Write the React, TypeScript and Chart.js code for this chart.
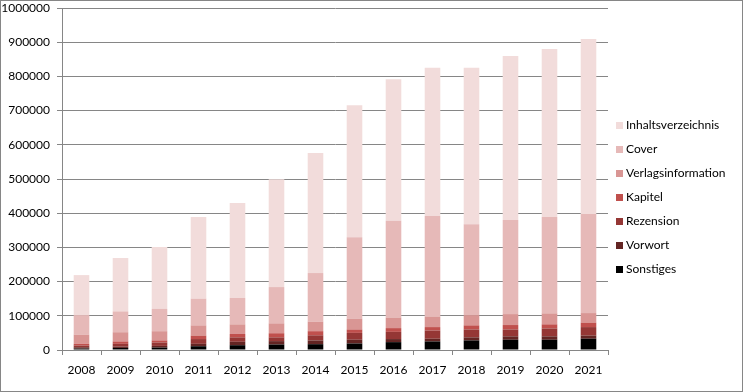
import React, { useEffect, useRef } from "react";
import { Chart, registerables } from "chart.js";

Chart.register(...registerables);

const years = ["2008", "2009", "2010", "2011", "2012", "2013", "2014", "2015", "2016", "2017", "2018", "2019", "2020", "2021"];

const sonstiges = [4000, 6000, 7000, 11000, 14000, 16000, 17000, 19000, 23000, 25000, 28000, 30000, 30000, 33000];
const vorwort = [4000, 4000, 5000, 7000, 10000, 10000, 11000, 11000, 9000, 8000, 9000, 10000, 10000, 9000];
const rezension = [5000, 8000, 10000, 14000, 13000, 11000, 15000, 20000, 21000, 24000, 23000, 20000, 23000, 25000];
const kapitel = [5000, 7000, 6000, 10000, 10000, 12000, 12000, 10000, 11000, 10000, 12000, 13000, 12000, 13000];
const verlagsinformation = [27000, 27000, 27000, 30000, 28000, 29000, 28000, 32000, 31000, 31000, 30000, 32000, 32000, 28000];
const cover = [57000, 61000, 65000, 78000, 77000, 106000, 142000, 238000, 283000, 294000, 266000, 275000, 282000, 290000];
const inhaltsverzeichnis = [117000, 156000, 181000, 239000, 278000, 315000, 351000, 386000, 414000, 433000, 457000, 480000, 491000, 511000];

const seriesNames = ["Sonstiges", "Vorwort", "Rezension", "Kapitel", "Verlagsinformation", "Cover", "Inhaltsverzeichnis"];
const seriesValues = [sonstiges, vorwort, rezension, kapitel, verlagsinformation, cover, inhaltsverzeichnis];
const seriesColors = ["#000000", "#632523", "#953735", "#c0504d", "#d99694", "#e6b9b8", "#f2dcdb"];

const GRID = "#868686";
const FONT = "Lato, 'Open Sans', sans-serif";

export default function App() {
  const ref = useRef<HTMLCanvasElement | null>(null);

  useEffect(() => {
    if (!ref.current) return;
    const bgPlugin = {
      id: "bgBorder",
      beforeDraw(chart: any) {
        const ctx = chart.ctx;
        ctx.save();
        ctx.fillStyle = "#ffffff";
        ctx.fillRect(0, 0, chart.width, chart.height);
        ctx.strokeStyle = GRID;
        ctx.lineWidth = 1;
        ctx.strokeRect(0.5, 0.5, chart.width - 1, chart.height - 1);
        ctx.restore();
      },
    };
    const legendPlugin = {
      id: "sideLegend",
      afterDraw(chart: any) {
        const ctx = chart.ctx;
        ctx.save();
        ctx.font = "12px " + FONT;
        ctx.textBaseline = "middle";
        ctx.textAlign = "left";
        const n = chart.data.datasets.length;
        for (let i = 0; i < n; i++) {
          const ds = chart.data.datasets[n - 1 - i];
          const y = 125 + i * 24;
          ctx.fillStyle = ds.backgroundColor;
          ctx.fillRect(616, Math.round(y - 3.5), 7, 7);
          ctx.fillStyle = "#000000";
          ctx.fillText(ds.label, 626, y);
        }
        ctx.restore();
      },
    };

    const chart = new Chart(ref.current, {
      type: "bar",
      data: {
        labels: years,
        datasets: seriesNames.map((name, i) => ({
          label: name,
          data: seriesValues[i],
          backgroundColor: seriesColors[i],
          borderWidth: 0,
          barPercentage: 0.4,
          categoryPercentage: 1,
          stack: "s",
        })),
      },
      options: {
        responsive: false,
        maintainAspectRatio: false,
        devicePixelRatio: 1,
        animation: false,
        layout: { padding: { left: 0, right: 135, top: 8, bottom: 0 } },
        plugins: {
          legend: { display: false },
          tooltip: { enabled: false },
        },
        scales: {
          x: {
            stacked: true,
            offset: true,
            grid: {
              offset: true,
              drawOnChartArea: false,
              drawTicks: true,
              tickLength: 5,
              color: GRID,
            },
            border: { display: true, color: GRID },
            ticks: { color: "#000", font: { family: FONT, size: 12 }, padding: 8, maxRotation: 0 },
            afterFit: (s: any) => {
              s.height = 42;
              s.paddingLeft = 0;
              s.paddingRight = 0;
            },
          },
          y: {
            stacked: true,
            min: 0,
            max: 1000000,
            grid: { color: GRID, tickLength: 5, drawTicks: true },
            border: { display: true, color: GRID },
            ticks: {
              stepSize: 100000,
              color: "#000",
              font: { family: FONT, size: 12 },
              padding: 7,
              callback: (v: any) => String(v),
            },
            afterFit: (s: any) => {
              s.width = 62;
              s.paddingTop = 0;
              s.paddingBottom = 0;
            },
          },
        },
      },
      plugins: [bgPlugin, legendPlugin],
    });
    return () => chart.destroy();
  }, []);

  return (
    <div style={{ position: "absolute", left: 0, top: 0, width: 743, height: 392 }}>
      <canvas ref={ref} width={743} height={392} style={{ display: "block" }} />
    </div>
  );
}
